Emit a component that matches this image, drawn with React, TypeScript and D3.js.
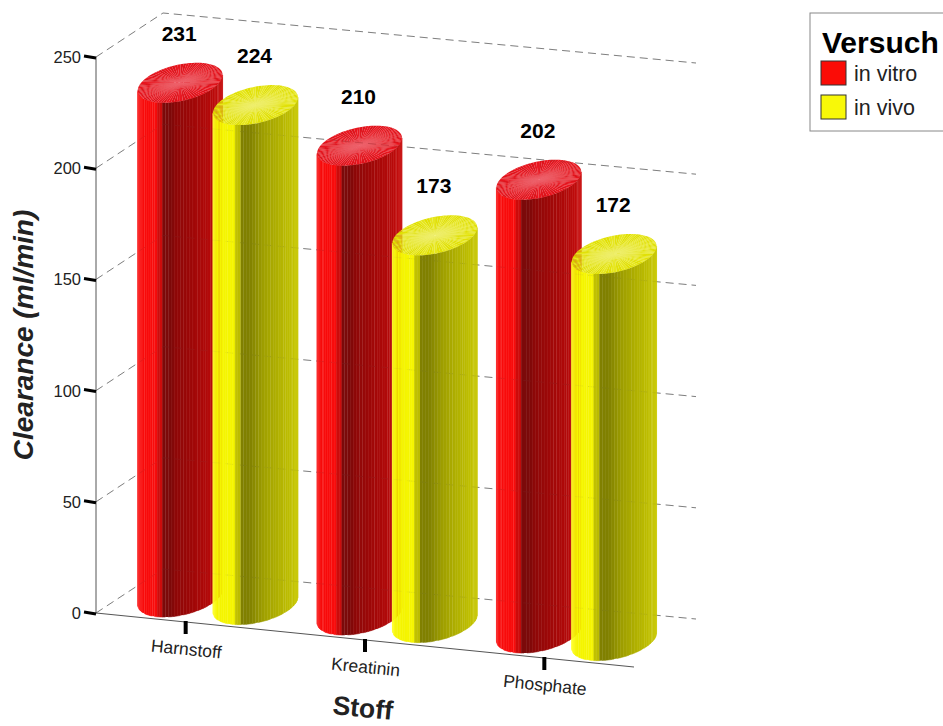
import React from "react";
import * as d3 from "d3";

const categories = ["Harnstoff", "Kreatinin", "Phosphate"];
const seriesNames = ["in vitro", "in vivo"];
const inVitro = [231, 210, 202];
const inVivo = [224, 173, 172];
const yTicks = [0, 50, 100, 150, 200, 250];

type Pt = [number, number];

// Oblique projection of the chart box: origin corner, floor edge along x, floor edge into depth.
const origin: Pt = [96, 613];
const frontVec: Pt = [538, 54];
const depthVec: Pt = [67, -44];
const wallVec: Pt = [533, 50];

const y = d3.scaleLinear().domain([0, 250]).range([0, 556]);
const band = d3.scaleBand<string>().domain(categories).range([0, 1]);
const seriesOffset = d3.scalePoint<string>().domain(seriesNames).range([-0.07, 0.07]);

const floorPoint = (s: number, d: number): Pt => [
  origin[0] + s * frontVec[0] + d * depthVec[0],
  origin[1] + s * frontVec[1] + d * depthVec[1],
];

// Columns nearer the viewer's right rise slightly more under the perspective.
const rise = (value: number, s: number) => y(value) * (1 + 0.012 * s);

// Cylinder cross-section: conjugate radii of the floor circle on screen.
const radiusA: Pt = [35, 4];
const radiusB: Pt = [24, -19.6];
const barDepth = 0.48;

const sideShade = {
  [seriesNames[0]]: d3
    .scaleLinear<string>()
    .domain([0, 0.04, 0.23, 0.24, 0.29, 0.3, 0.39, 0.45, 0.65, 0.85, 1])
    .range(["#fb2a2a", "#f80c0c", "#f80c0c", "#cc0c0c", "#cc0c0c", "#7c0a0a", "#7c0a0a", "#8e0808", "#a00808", "#b40a0a", "#c81010"]),
  [seriesNames[1]]: d3
    .scaleLinear<string>()
    .domain([0, 0.05, 0.25, 0.26, 0.33, 0.34, 0.43, 0.6, 0.8, 1])
    .range(["#ffff30", "#f5f500", "#f5f500", "#c4c400", "#b8b800", "#808000", "#808000", "#a0a000", "#b4b400", "#c8c800"]),
};

const capColors = {
  [seriesNames[0]]: { base: ["#e8131c", "#ec2228", "#de1018", "#e91c22"], glow: "#ee6070" },
  [seriesNames[1]]: { base: ["#e6e618", "#e9e934", "#e0e000", "#e8e828"], glow: "#f0f080" },
};

const pathOf = d3.line<Pt>();

function Cylinder({ series, cat, value }: { series: string; cat: string; value: number }) {
  const s = band(cat)! + band.bandwidth() / 2 + seriesOffset(series)!;
  const base = floorPoint(s, barDepth);
  const top: Pt = [base[0], base[1] - rise(value, s)];
  const rim = (c: Pt, t: number): Pt => [
    c[0] + Math.cos(t) * radiusA[0] + Math.sin(t) * radiusB[0],
    c[1] + Math.cos(t) * radiusA[1] + Math.sin(t) * radiusB[1],
  ];
  const halfWidth = Math.hypot(radiusA[0], radiusB[0]);
  const tRight = Math.atan2(radiusB[0], radiusA[0]);
  const tLeft = tRight - Math.PI;
  const facets = 44;
  const wedges = 90;
  const shade = sideShade[series];
  const cap = capColors[series];
  const sweep = d3.scaleLinear().domain([0, facets]).range([tLeft, tRight]);
  const turn = d3.scaleLinear().domain([0, wedges]).range([0, 2 * Math.PI]);
  const gradId = `capGlow-${series.replace(/\s/g, "")}`;

  return (
    <g>
      {d3.range(facets).map((i) => {
        const t0 = sweep(i);
        const t1 = sweep(i + 1);
        const mid = rim(base, (t0 + t1) / 2);
        const f = (mid[0] - (base[0] - halfWidth)) / (2 * halfWidth);
        const fill = shade(f);
        return (
          <path
            key={i}
            fill={fill}
            stroke={fill}
            strokeWidth={i % 5 === 2 ? 0 : 0.5}
            d={pathOf([rim(base, t0), rim(base, t1), rim(top, t1), rim(top, t0)]) + "Z"}
          />
        );
      })}
      {d3.range(wedges).map((i) => (
        <path
          key={i}
          fill={cap.base[(i * i + i) % 4]}
          d={pathOf([top, rim(top, turn(i)), rim(top, turn(i + 1))]) + "Z"}
        />
      ))}
      <radialGradient id={gradId}>
        <stop offset="0" stopColor={cap.glow} stopOpacity={0.4} />
        <stop offset="0.55" stopColor={cap.glow} stopOpacity={0.12} />
        <stop offset="1" stopColor={cap.glow} stopOpacity={0} />
      </radialGradient>
      <circle
        r={1}
        fill={`url(#${gradId})`}
        transform={`matrix(${radiusA[0]},${radiusA[1]},${radiusB[0]},${radiusB[1]},${top[0]},${top[1]})`}
      />
    </g>
  );
}

function Gridlines({ opacity }: { opacity: number }) {
  return (
    <g fill="none" stroke="#808080" strokeWidth={1} strokeDasharray="8 5" strokeOpacity={opacity}>
      {yTicks.map((t) => {
        const p0: Pt = [origin[0], origin[1] - y(t)];
        const p1: Pt = [p0[0] + depthVec[0], p0[1] + depthVec[1]];
        const p2: Pt = [p1[0] + wallVec[0], p1[1] + wallVec[1]];
        return <path key={t} d={pathOf([p0, p1, p2])!} />;
      })}
    </g>
  );
}

const font = "'Liberation Sans', Arial, sans-serif";

export default function App() {
  const bars = categories.flatMap((cat, i) => [
    { series: seriesNames[0], cat, value: inVitro[i] },
    { series: seriesNames[1], cat, value: inVivo[i] },
  ]);

  return (
    <svg
      width={943}
      height={726}
      style={{ position: "absolute", left: 0, top: 0, display: "block", background: "#fff" }}
      fontFamily={font}
    >
      <Gridlines opacity={1} />

      {/* Axis lines */}
      <path
        d={pathOf([[origin[0], origin[1] - y(250)], origin, floorPoint(1, 0)])!}
        fill="none"
        stroke="#555"
        strokeWidth={1}
      />

      {/* Value axis ticks and labels */}
      {yTicks.map((t) => {
        const py = origin[1] - y(t);
        return (
          <g key={t}>
            <path d={`M84,${py - 1}L96,${py + 1}`} stroke="#000" strokeWidth={3} />
            <text x={81} y={py + 6} textAnchor="end" fontSize={16.5} fill="#222">
              {t}
            </text>
          </g>
        );
      })}

      {/* Category ticks and labels */}
      {categories.map((c) => {
        const [px, py] = floorPoint(band(c)! + band.bandwidth() / 2, 0);
        return (
          <g key={c}>
            <path d={`M${px},${py - 1}L${px},${py + 12}`} stroke="#000" strokeWidth={4} />
            <text
              transform={`translate(${px},${py + 33}) rotate(5.7)`}
              textAnchor="middle"
              fontSize={17.5}
              fill="#222"
            >
              {c}
            </text>
          </g>
        );
      })}

      {bars.map((b) => (
        <Cylinder key={b.cat + b.series} {...b} />
      ))}

      {/* Faint grid showing through the translucent columns */}
      <Gridlines opacity={0.08} />

      {/* Value labels above each column */}
      {bars.map((b) => {
        const s = band(b.cat)! + band.bandwidth() / 2 + seriesOffset(b.series)!;
        const [px, py] = floorPoint(s, barDepth);
        return (
          <text
            key={b.cat + b.series}
            x={px - 1}
            y={py - rise(b.value, s) - 42}
            textAnchor="middle"
            fontSize={21}
            fontWeight="bold"
            fill="#000"
          >
            {b.value}
          </text>
        );
      })}

      {/* Axis titles */}
      <text
        transform="translate(33,335) rotate(-90)"
        textAnchor="middle"
        fontSize={28}
        fontWeight="bold"
        fontStyle="italic"
        fill="#222"
      >
        Clearance (ml/min)
      </text>
      <text
        transform="translate(362,717) rotate(5.7)"
        textAnchor="middle"
        fontSize={26.5}
        fontWeight="bold"
        fill="#222"
      >
        Stoff
      </text>

      {/* Legend */}
      <rect x={810} y={13} width={140} height={118} fill="#fff" stroke="#888" strokeWidth={1} />
      <text x={822} y={53} fontSize={30} fontWeight="bold" fill="#000">
        Versuch
      </text>
      {seriesNames.map((name, i) => (
        <g key={name} transform={`translate(821,${61 + i * 34})`}>
          <rect
            width={25}
            height={24}
            fill={i === 0 ? "#fb0c06" : "#f8f808"}
            stroke="#333"
            strokeWidth={1}
          />
          <text x={33} y={20} fontSize={21.5} fill="#222">
            {name}
          </text>
        </g>
      ))}
    </svg>
  );
}
